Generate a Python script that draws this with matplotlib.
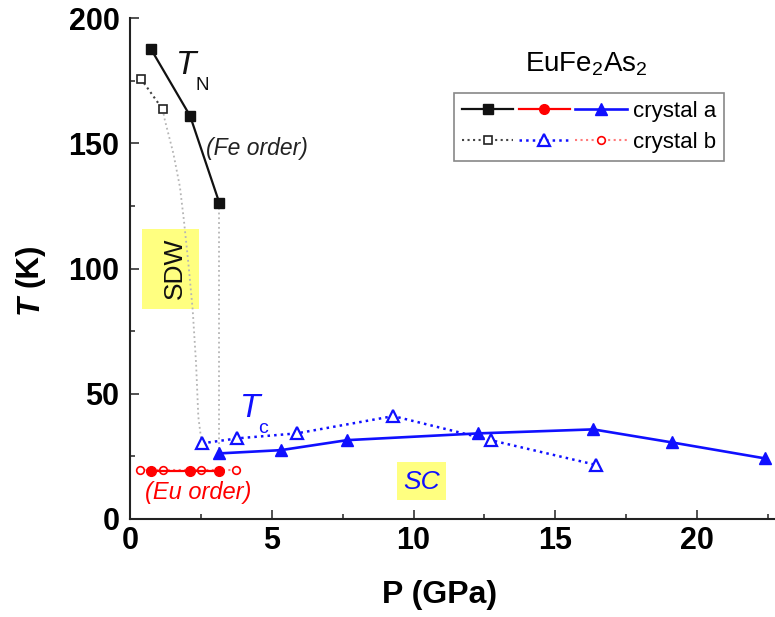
import matplotlib
matplotlib.use("Agg")
import matplotlib.pyplot as plt
from matplotlib.patches import Rectangle
from matplotlib.legend_handler import HandlerTuple
from matplotlib.ticker import MultipleLocator

plt.rcParams['font.family'] = ['Liberation Sans', 'DejaVu Sans']
plt.rcParams['mathtext.fontset'] = 'custom'
plt.rcParams['mathtext.rm'] = 'Liberation Sans'
plt.rcParams['mathtext.it'] = 'Liberation Sans:italic'
plt.rcParams['mathtext.bf'] = 'Liberation Sans:bold'
plt.rcParams['mathtext.default'] = 'regular'

# ---------------- data ----------------
# T_N (Fe order)
tn_a_P = [0.73, 2.12, 3.15]
tn_a_T = [187.9, 161.0, 126.3]
tn_b_P = [0.38, 1.15]
tn_b_T = [175.9, 163.7]
# Eu order
eu_a_P = [0.74, 2.12, 3.15]
eu_a_T = [19.0, 19.0, 19.0]
eu_b_P = [0.35, 1.15, 2.50, 3.74]
eu_b_T = [19.5, 19.5, 19.5, 19.5]
# Tc
tc_a_P = [3.15, 5.32, 7.66, 12.29, 16.34, 19.11, 22.40]
tc_a_T = [26.2, 27.5, 31.5, 34.2, 35.8, 30.6, 24.2]
tc_b_P = [2.53, 3.78, 5.88, 9.29, 12.72, 16.44]
tc_b_T = [30.2, 32.2, 34.2, 41.1, 31.5, 21.6]
# guide-to-the-eye lines
guide_a_P = [3.15, 3.15]
guide_a_T = [126.3, 26.2]
guide_b_P = [1.15, 1.23, 1.53, 1.76, 1.90, 2.06, 2.21, 2.33, 2.41, 2.53]
guide_b_T = [163.7, 159.3, 146.0, 132.7, 119.4, 102.0, 83.7, 62.2, 40.8, 30.2]

xticks = [0, 5, 10, 15, 20]
yticks = [0, 50, 100, 150, 200]
legend_labels = ['crystal a', 'crystal b']

BLUE = '#1010ff'
RED = '#ff0000'
LRED = '#ff7a7a'

fig = plt.figure(figsize=(7.75, 6.17), dpi=100)
ax = fig.add_axes([130/775, 1-519/617, 1-130/775, (519-18.3)/617])

# guide lines
ax.plot(guide_b_P, guide_b_T, ls=':', color='#b5b5b5', lw=1.3, zorder=2)
ax.plot(guide_a_P, guide_a_T, ls=':', color='#b5b5b5', lw=1.3, zorder=2)

# SDW / SC boxes
ax.add_patch(Rectangle((0.41, 83.7), 2.03, 32.3, facecolor='#ffff80', edgecolor='none', zorder=1))
ax.add_patch(Rectangle((9.42, 7.6), 1.73, 15.3, facecolor='#ffff80', edgecolor='none', zorder=1))

lb_blk, = ax.plot(tn_b_P, tn_b_T, ls=':', color='#444444', lw=1.5, marker='s', ms=5.5,
                  mfc='white', mec='#222222', mew=1.2, zorder=4)
lb_blu, = ax.plot(tc_b_P, tc_b_T, ls=':', color=BLUE, lw=1.8, marker='^', ms=8,
                  mfc='white', mec=BLUE, mew=1.6, zorder=4)
lb_red, = ax.plot(eu_b_P, eu_b_T, ls=':', color=LRED, lw=1.5, marker='o', ms=5.5,
                  mfc='white', mec=RED, mew=1.2, zorder=4)

la_blk, = ax.plot(tn_a_P, tn_a_T, ls='-', color='#111111', lw=1.6, marker='s', ms=6.5,
                  mfc='#111111', mec='#111111', zorder=5)
la_red, = ax.plot(eu_a_P, eu_a_T, ls='-', color=RED, lw=1.6, marker='o', ms=7,
                  mfc=RED, mec=RED, zorder=5)
la_blu, = ax.plot(tc_a_P, tc_a_T, ls='-', color=BLUE, lw=1.9, marker='^', ms=8,
                  mfc=BLUE, mec=BLUE, zorder=5, clip_on=False)

ax.set_xlim(0, 22.75)
ax.set_ylim(0, 200)
ax.set_xticks(xticks)
ax.set_yticks(yticks)
ax.xaxis.set_minor_locator(MultipleLocator(2.5))
ax.yaxis.set_minor_locator(MultipleLocator(25))
for s in ['top', 'right']:
    ax.spines[s].set_visible(False)
for s in ['left', 'bottom']:
    ax.spines[s].set_linewidth(1.5)
    ax.spines[s].set_color('#222222')
ax.tick_params(which='major', direction='in', length=6.5, width=1.1, color='#222222')
ax.tick_params(which='minor', direction='in', length=3.5, width=1.1, color='#222222')
ax.tick_params(axis='x', which='major', labelsize=22, pad=5)
ax.tick_params(axis='y', which='major', labelsize=22, pad=7.5)
for lab in ax.get_xticklabels() + ax.get_yticklabels():
    lab.set_fontweight('bold')

# axis labels
fig.text(440/775, 1-603/617, 'P (GPa)', fontsize=23, fontweight='bold',
         ha='center', va='baseline')
fig.text(30/775, 1-304.5/617, 'T', fontsize=22.5, fontweight='bold', style='italic',
         rotation=90, ha='center', va='center')
fig.text(30/775, 1-265.5/617, '(K)', fontsize=22.5, fontweight='bold',
         rotation=90, ha='center', va='center')

# annotations
ax.text(1.62, 177.9, 'T', fontsize=24, style='italic', ha='left', va='baseline', color='#111111')
ax.text(2.30, 171.5, 'N', fontsize=13.5, ha='left', va='baseline', color='#111111')
ax.text(2.68, 148, '(Fe order)', fontsize=16.5, style='italic', ha='left', va='center', color='#222222')
ax.text(3.88, 40.8, 'T', fontsize=24, style='italic', ha='left', va='baseline', color=BLUE)
ax.text(4.52, 34.5, 'c', fontsize=14, ha='left', va='baseline', color=BLUE)
ax.text(2.40, 10.4, '(Eu order)', fontsize=17, style='italic', ha='center', va='center', color=RED)
ax.text(10.29, 14.9, 'SC', fontsize=19, style='italic', ha='center', va='center', color=BLUE)
ax.text(1.59, 100, 'SDW', fontsize=19, rotation=90, ha='center', va='center', color='#111111')

fig.text(586.7/775, 1-71.7/617, 'EuFe$_2$As$_2$', fontsize=20, ha='center', va='baseline')

leg = ax.legend([(la_blk, la_red, la_blu), (lb_blk, lb_blu, lb_red)], legend_labels,
                handler_map={tuple: HandlerTuple(ndivide=None, pad=0.25)},
                loc='upper left', bbox_to_anchor=(454.3/775, 1-93.3/617),
                bbox_transform=fig.transFigure, fontsize=16, numpoints=1,
                handlelength=7.4, handletextpad=0.3, borderpad=0.35,
                labelspacing=0.45, borderaxespad=0, fancybox=False, framealpha=1)
leg.get_frame().set_edgecolor('#888888')
leg.get_frame().set_linewidth(1.2)

fig.savefig('out.png', dpi=100)
